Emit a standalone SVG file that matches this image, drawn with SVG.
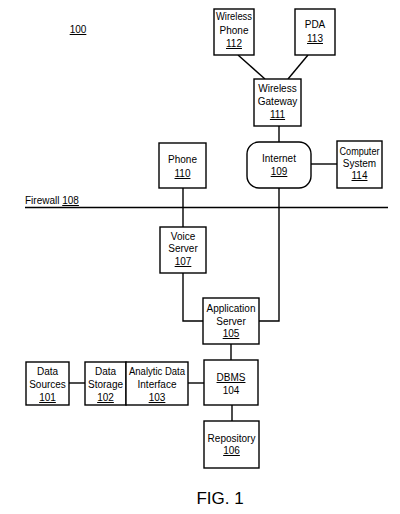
<svg xmlns="http://www.w3.org/2000/svg" width="400" height="514" viewBox="0 0 400 514">
<style>
.box{fill:#fff;stroke:#000;stroke-width:1.4}
.ln{fill:none;stroke:#000;stroke-width:1.4}
text{font-family:"Liberation Sans",Arial,sans-serif;font-size:10px;fill:#000;text-anchor:middle}
.u{text-decoration:underline}
.l{text-anchor:start}
</style>
<rect width="400" height="514" fill="#fff"/>
<g id="label100"><text x="78" y="33" class="u">100</text></g>
<g id="firewall">
<line class="ln" x1="25" y1="207.5" x2="388" y2="207.5"/>
<text x="25" y="204" class="l">Firewall <tspan class="u">108</tspan></text>
</g>
<g id="connectors">
<line class="ln" x1="238" y1="55" x2="265" y2="79"/>
<line class="ln" x1="308" y1="55" x2="288" y2="79"/>
<line class="ln" x1="279" y1="126" x2="279" y2="142"/>
<line class="ln" x1="311" y1="164" x2="337" y2="164"/>
<line class="ln" x1="183" y1="188" x2="183" y2="227"/>
<polyline class="ln" points="183,273 183,321 203,321"/>
<polyline class="ln" points="279,188 279,321 259,321"/>
<line class="ln" x1="231" y1="344" x2="231" y2="360"/>
<line class="ln" x1="69" y1="383" x2="85" y2="383"/>
<line class="ln" x1="188" y1="383" x2="204" y2="383"/>
<line class="ln" x1="232" y1="405" x2="232" y2="421"/>
</g>
<g id="n112"><rect class="box" x="214" y="9" width="40" height="46"/>
<text x="234" y="20" textLength="36" lengthAdjust="spacingAndGlyphs">Wireless</text><text x="234" y="34">Phone</text><text x="234" y="47" class="u">112</text></g>
<g id="n113"><rect class="box" x="295" y="9" width="40" height="46"/>
<text x="315" y="28">PDA</text><text x="315" y="42" class="u">113</text></g>
<g id="n111"><rect class="box" x="254" y="79" width="47" height="47"/>
<text x="277.5" y="92">Wireless</text><text x="277.5" y="105">Gateway</text><text x="277.5" y="118" class="u">111</text></g>
<g id="n109"><rect class="box" x="247" y="142" width="64" height="46" rx="12"/>
<text x="279" y="162">Internet</text><text x="279" y="175" class="u">109</text></g>
<g id="n114"><rect class="box" x="337" y="141" width="45" height="47"/>
<text x="359.5" y="155" textLength="40" lengthAdjust="spacingAndGlyphs">Computer</text><text x="359.5" y="167">System</text><text x="359.5" y="179" class="u">114</text></g>
<g id="n110"><rect class="box" x="159" y="143" width="47" height="45"/>
<text x="182.5" y="163">Phone</text><text x="182.5" y="177" class="u">110</text></g>
<g id="n107"><rect class="box" x="160" y="227" width="46" height="46"/>
<text x="183" y="240">Voice</text><text x="183" y="252">Server</text><text x="183" y="265" class="u">107</text></g>
<g id="n105"><rect class="box" x="203" y="298" width="56" height="46"/>
<text x="231" y="312">Application</text><text x="231" y="325">Server</text><text x="231" y="337" class="u">105</text></g>
<g id="n101"><rect class="box" x="26" y="362" width="43" height="43"/>
<text x="47.5" y="375">Data</text><text x="47.5" y="388">Sources</text><text x="47.5" y="401" class="u">101</text></g>
<g id="n102"><rect class="box" x="85" y="362" width="41" height="43"/>
<text x="105.5" y="375">Data</text><text x="105.5" y="388">Storage</text><text x="105.5" y="401" class="u">102</text></g>
<g id="n103"><rect class="box" x="126" y="362" width="62" height="43"/>
<text x="157" y="375" textLength="56" lengthAdjust="spacingAndGlyphs">Analytic Data</text><text x="157" y="388">Interface</text><text x="157" y="401" class="u">103</text></g>
<g id="n104"><rect class="box" x="204" y="360" width="54" height="45"/>
<text x="231" y="381" class="u">DBMS</text><text x="231" y="394">104</text></g>
<g id="n106"><rect class="box" x="204" y="421" width="55" height="47"/>
<text x="231.5" y="442">Repository</text><text x="231.5" y="454" class="u">106</text></g>
<g id="caption"><text x="220" y="504" style="font-size:17px">FIG. 1</text></g>
</svg>
